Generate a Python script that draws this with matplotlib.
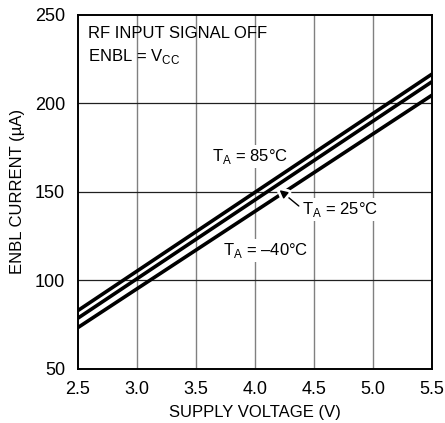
import matplotlib
matplotlib.use("Agg")
import matplotlib.pyplot as plt
import matplotlib.patheffects as pe
from matplotlib import font_manager

voltage = [2.5, 5.5]
i_85 = [82.9, 216.5]
i_25 = [78.6, 212.2]
i_m40 = [73.3, 204.6]

xticks = [2.5, 3.0, 3.5, 4.0, 4.5, 5.0, 5.5]
xticklabels = ["2.5", "3.0", "3.5", "4.0", "4.5", "5.0", "5.5"]
yticks = [50, 100, 150, 200, 250]

names = {f.name for f in font_manager.fontManager.ttflist}
fam = [f for f in ["Liberation Sans Narrow", "Liberation Sans", "DejaVu Sans"] if f in names]
plt.rcParams['font.family'] = fam
plt.rcParams['mathtext.fontset'] = 'custom'
plt.rcParams['mathtext.rm'] = fam[0]

fig = plt.figure(figsize=(4.45, 4.23), dpi=100)
ax = fig.add_axes([0.1746, 0.1277, 0.7964, 0.8376])

ax.set_xlim(2.5, 5.5)
ax.set_ylim(50, 250)
ax.set_xticks(xticks)
ax.set_xticklabels(xticklabels)
ax.set_yticks(yticks)
ax.tick_params(length=0, labelsize=13, pad=9)

for x in xticks[1:-1]:
    ax.axvline(x, color='#808080', lw=1.0, zorder=1)
for y in yticks[1:-1]:
    ax.axhline(y, color='#202020', lw=0.9, zorder=1)

for s in ax.spines.values():
    s.set_linewidth(1.4)
    s.set_color('black')

for ys in (i_85, i_25, i_m40):
    ax.plot(voltage, ys, color='black', lw=2.6, zorder=3, solid_capstyle='butt')

fs = 12
bbox = dict(facecolor='white', edgecolor='none', pad=1.5)
ax.text(3.64, 170, r"T$_\mathregular{A}$ = 85°C", fontsize=fs, va='center', ha='left', bbox=bbox, zorder=2.5)
ax.text(4.40, 140, r"T$_\mathregular{A}$ = 25°C", fontsize=fs, va='center', ha='left', bbox=bbox, zorder=2.5)
ax.text(3.73, 117, r"T$_\mathregular{A}$ = –40°C", fontsize=fs, va='center', ha='left', bbox=bbox, zorder=2.5)

ax.annotate("", xy=(4.19, 152), xytext=(4.39, 141),
            arrowprops=dict(arrowstyle='-|>', color='black', lw=1.0, mutation_scale=12,
                            path_effects=[pe.withStroke(linewidth=5, foreground='white')]),
            zorder=4)

ax.text(0.028, 0.948, "RF INPUT SIGNAL OFF", transform=ax.transAxes, fontsize=fs, va='center', ha='left')
ax.text(0.028, 0.882, r"ENBL = V$_\mathregular{CC}$", transform=ax.transAxes, fontsize=fs, va='center', ha='left')

ax.set_xlabel("SUPPLY VOLTAGE (V)", fontsize=12, labelpad=5)
ax.set_ylabel("ENBL CURRENT (µA)", fontsize=12, labelpad=7)

fig.savefig("out.png", dpi=100)
